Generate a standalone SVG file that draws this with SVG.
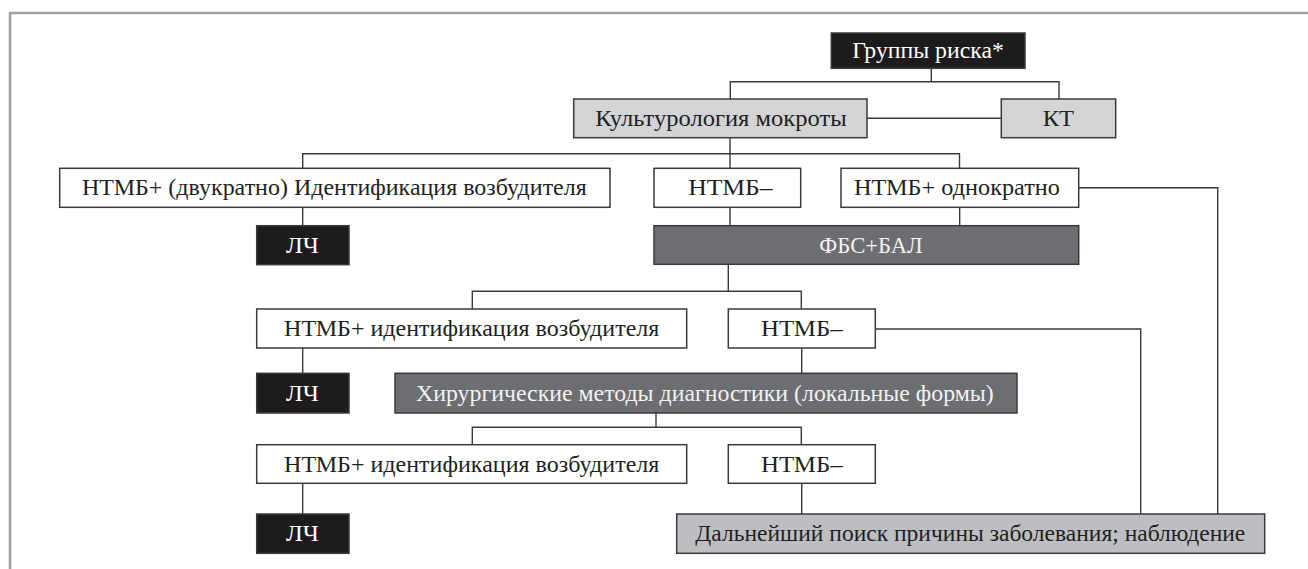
<svg xmlns="http://www.w3.org/2000/svg" width="1308" height="569" viewBox="0 0 1308 569">
<style>
.box{stroke:#3a3a3a;stroke-width:1.5}
.white{fill:#ffffff}
.black{fill:#1e1b1c}
.dark{fill:#6d6e71}
.light{fill:#d3d4d6}
.mid{fill:#bdbec1}
.t{font-family:"Liberation Serif","Times New Roman",serif;font-size:23.5px;text-anchor:middle;fill:#231f20}
.tw{fill:#ffffff}
.tl{fill:#f2f2f2}
.c{fill:none;stroke:#3a3a3a;stroke-width:1.4}
.frame{fill:none;stroke:#a0a0a0;stroke-width:2.5}
</style>
<rect x="0" y="0" width="1308" height="569" fill="#ffffff"/>
<path class="frame" d="M1308,13 H10 V569"/>
<g id="connectors">
<path class="c" d="M931.3,68.3 V81.7 M730.3,99 V81.7 H1059 V99"/>
<path class="c" d="M867,118.3 H1001.3"/>
<path class="c" d="M730,137.7 V168.3 M302.7,168.3 V153.7 H959.5 V168.3"/>
<path class="c" d="M302.7,207.3 V225.7 M730,207.3 V225.7 M959.7,207.3 V225.7"/>
<path class="c" d="M1078.7,187.7 H1217.7 V514"/>
<path class="c" d="M728.3,264.3 V291.3 M472.3,309 V291.3 H801.3 V309"/>
<path class="c" d="M302.7,348 V373.3 M801.7,348 V373.3"/>
<path class="c" d="M875.3,329 H1140.7 V514"/>
<path class="c" d="M656,413 V427.3 M472.3,444.7 V427.3 H801.3 V444.7"/>
<path class="c" d="M302.7,483.3 V514 M801.7,483.3 V514"/>
</g>
<g id="risk">
<rect class="box black" x="831.3" y="33" width="193.7" height="35.3"/>
<text class="t tw" x="928" y="58" textLength="151.7" lengthAdjust="spacingAndGlyphs">Группы риска*</text>
</g>
<g id="culture">
<rect class="box light" x="573.7" y="99" width="293.3" height="38.7"/>
<text class="t" x="721" y="126" textLength="251.4" lengthAdjust="spacingAndGlyphs">Культурология мокроты</text>
</g>
<g id="kt">
<rect class="box light" x="1001.3" y="99" width="114.4" height="38.7"/>
<text class="t" x="1058.4" y="126" textLength="31.3" lengthAdjust="spacingAndGlyphs">КТ</text>
</g>
<g id="pos2">
<rect class="box white" x="59.7" y="168.3" width="550.3" height="39"/>
<text class="t" x="334.4" y="195.3" textLength="504.7" lengthAdjust="spacingAndGlyphs">НТМБ+ (двукратно) Идентификация возбудителя</text>
</g>
<g id="neg1">
<rect class="box white" x="654" y="168.3" width="146.7" height="39"/>
<text class="t" x="730.5" y="195.3" textLength="84.4" lengthAdjust="spacingAndGlyphs">НТМБ–</text>
</g>
<g id="pos1">
<rect class="box white" x="841" y="168.3" width="237.7" height="39"/>
<text class="t" x="957" y="195.3" textLength="206" lengthAdjust="spacingAndGlyphs">НТМБ+ однократно</text>
</g>
<g id="lch1">
<rect class="box black" x="256.7" y="225.7" width="92.3" height="39"/>
<text class="t tw" x="302.5" y="252.8" textLength="33" lengthAdjust="spacingAndGlyphs">ЛЧ</text>
</g>
<g id="fbs">
<rect class="box dark" x="654" y="225.7" width="424.7" height="38.6"/>
<text class="t tl" x="871" y="252.8" textLength="103.4" lengthAdjust="spacingAndGlyphs">ФБС+БАЛ</text>
</g>
<g id="pos3">
<rect class="box white" x="256.7" y="309" width="430" height="39"/>
<text class="t" x="471.7" y="336" textLength="375.3" lengthAdjust="spacingAndGlyphs">НТМБ+ идентификация возбудителя</text>
</g>
<g id="neg2">
<rect class="box white" x="728.3" y="309" width="147" height="39"/>
<text class="t" x="801.8" y="336" textLength="81.7" lengthAdjust="spacingAndGlyphs">НТМБ–</text>
</g>
<g id="lch2">
<rect class="box black" x="256.7" y="373.3" width="92.3" height="39.7"/>
<text class="t tw" x="302.5" y="400.8" textLength="33" lengthAdjust="spacingAndGlyphs">ЛЧ</text>
</g>
<g id="surg">
<rect class="box dark" x="395" y="373.3" width="622" height="39.7"/>
<text class="t tl" x="704.9" y="400.8" textLength="577.7" lengthAdjust="spacingAndGlyphs">Хирургические методы диагностики (локальные формы)</text>
</g>
<g id="pos4">
<rect class="box white" x="256.7" y="444.7" width="430" height="38.6"/>
<text class="t" x="471.7" y="471.6" textLength="375.3" lengthAdjust="spacingAndGlyphs">НТМБ+ идентификация возбудителя</text>
</g>
<g id="neg3">
<rect class="box white" x="728.3" y="444.7" width="147" height="38.6"/>
<text class="t" x="801.8" y="471.6" textLength="81.7" lengthAdjust="spacingAndGlyphs">НТМБ–</text>
</g>
<g id="lch3">
<rect class="box black" x="256.7" y="514" width="92.3" height="39.3"/>
<text class="t tw" x="302.5" y="541.3" textLength="33" lengthAdjust="spacingAndGlyphs">ЛЧ</text>
</g>
<g id="further">
<rect class="box mid" x="676.7" y="514" width="588" height="39.3"/>
<text class="t" x="970.3" y="541.3" textLength="550" lengthAdjust="spacingAndGlyphs">Дальнейший поиск причины заболевания; наблюдение</text>
</g>
</svg>
